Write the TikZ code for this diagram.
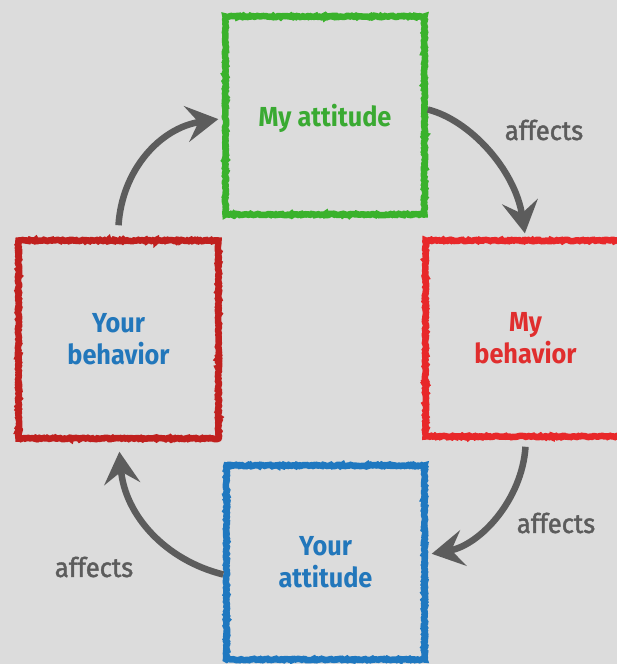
\documentclass[tikz,border=0pt]{standalone}
\usepackage{fontspec}
\setmainfont{Fira Sans}[FakeStretch=0.92]
\newfontfamily\affont{Fira Sans}[FakeStretch=0.95, FakeBold=1.6]
\usetikzlibrary{decorations.pathmorphing,arrows.meta}
\definecolor{bg}{HTML}{DCDCDC}
\definecolor{cgreen}{HTML}{3AB22C}
\definecolor{cred}{HTML}{E8282A}
\definecolor{cdred}{HTML}{C0201E}
\definecolor{cblue}{HTML}{1F78C0}
\definecolor{tgreen}{HTML}{3AAA32}
\definecolor{tred}{HTML}{E02E2E}
\definecolor{tblue}{HTML}{2277BB}
\definecolor{cgray}{HTML}{5C5C5C}
\tikzset{
  chalkbox/.style={draw=#1, line width=6.5pt, decorate,
    decoration={random steps, segment length=1.4pt, amplitude=0.7pt},
    align=center, font=\fontsize{27.5}{32}\selectfont\bfseries,
    inner sep=0pt},
  chalkarrow/.style={draw=cgray, line width=6.5pt,
    -{Stealth[length=32pt, width=36pt, inset=12pt]}},
  lbl/.style={text=cgray, font=\fontsize{27}{30}\affont}
}
\begin{document}
\begin{tikzpicture}[x=1pt, y=-1pt]
\useasboundingbox (0,0) rectangle (617,664);
\fill[bg] (0,0) rectangle (617,664);
\clip (0,0) rectangle (617,664);
\node[chalkbox=cgreen, text=tgreen, minimum width=199pt, minimum height=198pt] (tg) at (325,115.5) {\raisebox{-3pt}[\height][\depth]{My attitude}};
\node[chalkbox=cdred, text=tblue, minimum width=200pt, minimum height=198pt] (lb) at (118.5,339.5) {Your\\behavior};
\node[chalkbox=cred, text=tred, minimum width=200pt, minimum height=196pt] (rr) at (525.5,338.5) {My\\behavior};
\node[chalkbox=cblue, text=tblue, minimum width=198pt, minimum height=194pt] (bb) at (325.5,562.5) {Your\\attitude};
\draw[chalkarrow, shorten >=4pt] ([yshift=12pt]lb.north) .. controls (122,170) and (160,128) .. ([yshift=-3pt]tg.west);
\draw[chalkarrow, shorten >=4pt] ([yshift=6pt]tg.east) .. controls (470,120) and (515,170) .. (rr.north);
\draw[chalkarrow, shorten >=4pt] ([yshift=-7pt]rr.south) .. controls (522,500) and (480,545) .. ([yshift=8pt]bb.east);
\draw[chalkarrow, shorten >=10pt] ([yshift=-12pt]bb.west) .. controls (165,560) and (125,515) .. (lb.south);
\node[lbl] (l1) at (544,130) {affects};
\node[lbl] (l2) at (556,523) {affects};
\node[lbl] (l3) at (94,567) {affects};
\end{tikzpicture}
\end{document}
